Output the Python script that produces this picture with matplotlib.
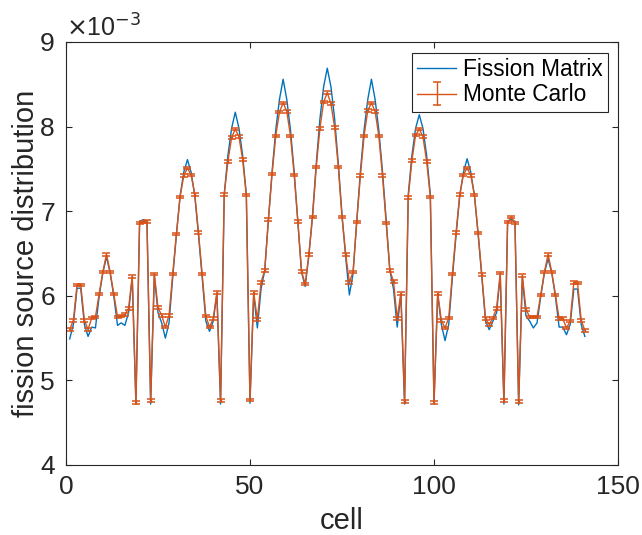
import matplotlib
matplotlib.use('Agg')
import matplotlib.pyplot as plt

plt.rcParams['font.family'] = ['Liberation Sans', 'DejaVu Sans']

cells = list(range(1, 142))

fission_matrix = [
    5.49, 5.66, 6.09, 6.09, 5.66, 5.52, 5.63, 5.62, 5.99, 6.27,
    6.46, 6.27, 5.99, 5.65, 5.68, 5.65, 5.80, 6.22, 4.72, 6.88,
    6.90, 6.88, 4.72, 6.24, 5.80, 5.68, 5.50, 5.68, 6.22, 6.72,
    7.18, 7.46, 7.61, 7.46, 7.18, 6.72, 6.22, 5.70, 5.58, 5.70,
    6.02, 4.72, 7.20, 7.66, 7.98, 8.17, 7.98, 7.66, 7.20, 4.73,
    6.02, 5.62, 6.08, 6.30, 6.90, 7.47, 7.96, 8.32, 8.56, 8.32,
    7.96, 7.47, 6.88, 6.28, 6.11, 6.48, 6.96, 7.56, 8.09, 8.47,
    8.69, 8.47, 8.09, 7.56, 6.96, 6.46, 6.01, 6.26, 6.88, 7.47,
    7.96, 8.32, 8.56, 8.32, 7.96, 7.47, 6.90, 6.30, 6.08, 5.63,
    6.02, 4.72, 7.20, 7.66, 7.98, 8.14, 7.98, 7.66, 7.20, 4.72,
    6.02, 5.66, 5.47, 5.66, 6.22, 6.72, 7.18, 7.46, 7.62, 7.46,
    7.18, 6.72, 6.22, 5.70, 5.60, 5.70, 5.80, 6.24, 4.72, 6.88,
    6.90, 6.88, 4.71, 6.22, 5.76, 5.70, 5.62, 5.68, 5.99, 6.27,
    6.44, 6.27, 5.99, 5.63, 5.63, 5.54, 5.66, 6.08, 6.08, 5.66,
    5.52,
]

monte_carlo = [
    5.60, 5.71, 6.13, 6.13, 5.71, 5.60, 5.74, 5.75, 6.02, 6.28,
    6.49, 6.28, 6.02, 5.75, 5.76, 5.78, 5.85, 6.23, 4.74, 6.86,
    6.87, 6.88, 4.76, 6.26, 5.86, 5.77, 5.63, 5.77, 6.26, 6.73,
    7.17, 7.42, 7.51, 7.43, 7.20, 6.75, 6.26, 5.76, 5.63, 5.73,
    6.04, 4.76, 7.20, 7.59, 7.87, 7.97, 7.88, 7.61, 7.19, 4.77,
    6.04, 5.72, 6.16, 6.30, 6.90, 7.44, 7.89, 8.17, 8.28, 8.18,
    7.89, 7.43, 6.88, 6.29, 6.14, 6.49, 6.93, 7.52, 7.98, 8.29,
    8.40, 8.27, 7.99, 7.52, 6.93, 6.49, 6.16, 6.28, 6.87, 7.42,
    7.89, 8.19, 8.28, 8.18, 7.89, 7.42, 6.86, 6.30, 6.17, 5.73,
    6.03, 4.75, 7.16, 7.60, 7.90, 7.97, 7.88, 7.59, 7.17, 4.74,
    6.03, 5.71, 5.62, 5.74, 6.26, 6.75, 7.20, 7.43, 7.51, 7.42,
    7.19, 6.74, 6.25, 5.73, 5.66, 5.74, 5.85, 6.27, 4.76, 6.87,
    6.93, 6.86, 4.75, 6.24, 5.84, 5.75, 5.75, 5.75, 6.01, 6.28,
    6.49, 6.28, 6.01, 5.73, 5.73, 5.62, 5.70, 6.16, 6.15, 5.71,
    5.59,
]

mc_error = 0.015

x_ticks = [0, 50, 100, 150]
y_ticks = [4, 5, 6, 7, 8, 9]

dark = (0.15, 0.15, 0.15)

fig = plt.figure(figsize=(6.42, 5.35), dpi=100)
ax = fig.add_axes([66 / 642, 1 - 465 / 535, 552 / 642, 423 / 535])

ax.plot(cells, fission_matrix, color='#0072BD', lw=1.0, label='Fission Matrix')
ax.errorbar(cells, monte_carlo, yerr=mc_error, color='#D95319', lw=1.0,
            elinewidth=1.0, capsize=3.0, capthick=1.1, label='Monte Carlo')

ax.set_xlim(0, 150)
ax.set_ylim(4, 9)
ax.set_xticks(x_ticks)
ax.set_yticks(y_ticks)
ax.tick_params(direction='in', top=True, right=True, length=4, width=0.8,
               labelsize=19, colors=dark)
ax.tick_params(axis='x', pad=7)
ax.tick_params(axis='y', pad=8)
for s in ax.spines.values():
    s.set_color(dark)
    s.set_linewidth(0.8)

ax.set_xlabel('cell', fontsize=21, color=dark, labelpad=6)
ax.set_ylabel('fission source distribution', fontsize=21, color=dark)
ax.yaxis.set_label_coords(-0.048, 0.5)

ax.text(0.0, 1.0, r'$\times$10$^{-3}$', transform=ax.transAxes,
        ha='left', va='bottom', fontsize=18, color=dark)

leg = ax.legend(loc='upper right', bbox_to_anchor=(0.982, 0.975), borderaxespad=0,
                fancybox=False, edgecolor=dark, framealpha=1, fontsize=16.3,
                handlelength=1.7, borderpad=0.25, labelspacing=0.1, handletextpad=0.3)
leg.get_frame().set_linewidth(0.8)

fig.savefig('out.png', dpi=100)
